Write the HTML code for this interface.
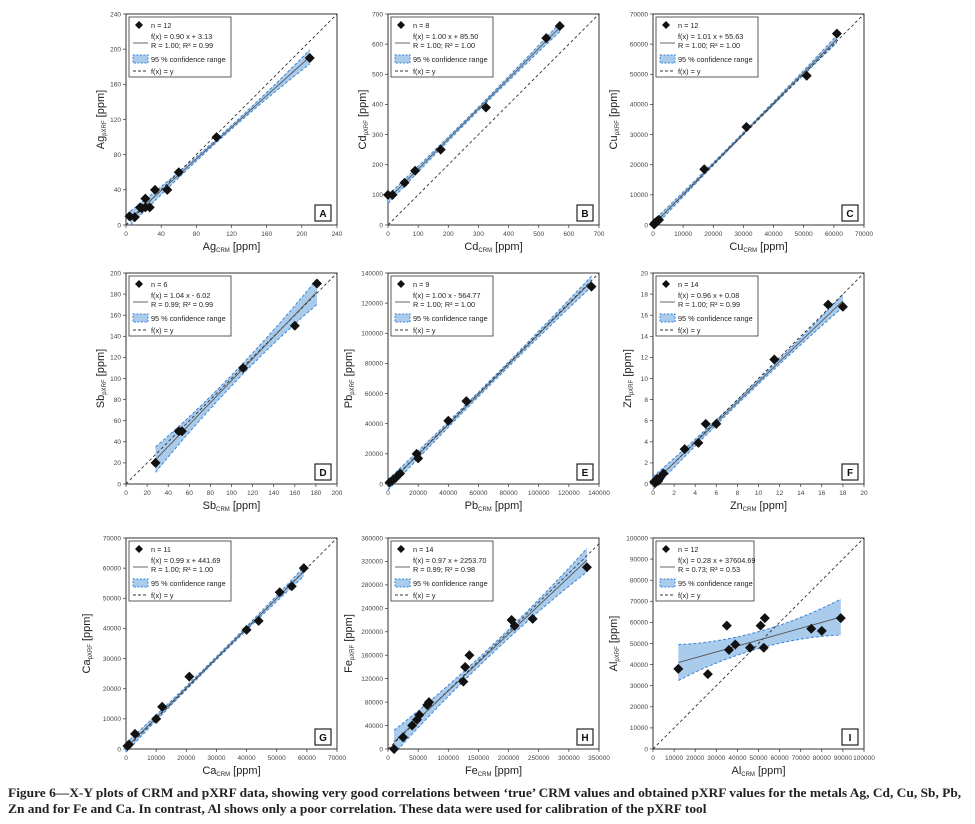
<!DOCTYPE html>
<html><head><meta charset="utf-8"><style>
html,body{margin:0;padding:0;background:#fff;width:975px;height:824px;overflow:hidden}
svg{position:absolute;left:0;top:0}
.cap{position:absolute;left:8px;top:785px;font-family:"Liberation Serif",serif;font-weight:bold;font-size:12.6px;line-height:16px;color:#222;width:900px;white-space:nowrap;transform:scaleX(1.065);transform-origin:0 0}
</style></head><body>
<svg id="s" width="975" height="824" xmlns="http://www.w3.org/2000/svg" font-family="Liberation Sans, sans-serif"></svg>
<div class="cap">Figure 6—X-Y plots of CRM and pXRF data, showing very good correlations between ‘true’ CRM values and obtained pXRF values for the metals Ag, Cd, Cu, Sb, Pb,<br>Zn and for Fe and Ca. In contrast, Al shows only a poor correlation. These data were used for calibration of the pXRF tool</div>
<script>
const P=[
{L:126,T:14,el:'Ag',tag:'A',xm:240,xs:40,ym:240,ys:40,n:12,f:'f(x) = 0.90 x + 3.13',r:'R = 1.00; R² = 0.99',a:0.90,b:3.13,x0:5,x1:209,hm:2,he:8,
pts:[[4,10],[10,9],[16,20],[22,30],[22,20],[27,20],[33,40],[47,40],[60,60],[103,100],[209,190],[18,19]]},
{L:388,T:14,el:'Cd',tag:'B',xm:700,xs:100,ym:700,ys:100,n:8,f:'f(x) = 1.00 x + 85.50',r:'R = 1.00; R² = 1.00',a:1,b:85.5,x0:0,x1:570,hm:6,he:14,
pts:[[0,100],[15,100],[55,140],[90,180],[175,250],[325,390],[525,620],[570,660]]},
{L:653,T:14,el:'Cu',tag:'C',xm:70000,xs:10000,ym:70000,ys:10000,n:12,f:'f(x) = 1.01 x + 55.63',r:'R = 1.00; R² = 1.00',a:1.01,b:55.63,x0:0,x1:61000,hm:400,he:1200,
pts:[[300,300],[700,800],[1200,1100],[1600,1500],[2000,1700],[600,400],[17000,18500],[31000,32500],[51000,49500],[61000,63500],[1000,900],[400,200]]},
{L:126,T:273,el:'Sb',tag:'D',xm:200,xs:20,ym:200,ys:20,n:6,f:'f(x) = 1.04 x - 6.02',r:'R = 0.99; R² = 0.99',a:1.04,b:-6.02,x0:28,x1:181,hm:5,he:12,
pts:[[28,20],[50,50],[53,50],[111,110],[160,150],[181,190]]},
{L:388,T:273,el:'Pb',tag:'E',xm:140000,xs:20000,ym:140000,ys:20000,n:9,f:'f(x) = 1.00 x - 564.77',r:'R = 1.00; R² = 1.00',a:1,b:-564.77,x0:0,x1:135000,hm:1500,he:3500,
pts:[[1000,1000],[3000,2500],[5000,4000],[19000,20000],[20000,17000],[40000,42000],[52000,55000],[135000,131000],[8000,7000]]},
{L:653,T:273,el:'Zn',tag:'F',xm:20,xs:2,ym:20,ys:2,n:14,f:'f(x) = 0.96 x + 0.08',r:'R = 1.00; R² = 0.99',a:0.96,b:0.08,x0:0,x1:18,hm:0.2,he:0.6,
pts:[[0.2,0.1],[0.5,0.3],[1,1],[3,3.3],[4.3,3.9],[5,5.7],[6,5.7],[11.5,11.8],[16.6,17],[18,16.8],[0.3,0.2],[0.4,0.5],[0.1,0.2],[0.6,0.5]]},
{L:126,T:538,el:'Ca',tag:'G',xm:70000,xs:10000,ym:70000,ys:10000,n:11,f:'f(x) = 0.99 x + 441.69',r:'R = 1.00; R² = 1.00',a:0.99,b:441.69,x0:0,x1:59000,hm:500,he:1500,
pts:[[500,1000],[1000,1500],[3000,5000],[10000,10000],[12000,14000],[21000,24000],[40000,39500],[44000,42500],[51000,52000],[55000,54000],[59000,60000]]},
{L:388,T:538,el:'Fe',tag:'H',xm:350000,xs:50000,ym:360000,ys:40000,n:14,f:'f(x) = 0.97 x + 2253.70',r:'R = 0.99; R² = 0.98',a:0.97,b:2253.7,x0:10000,x1:330000,hm:7000,he:20000,
pts:[[10000,0],[25000,20000],[40000,40000],[48000,50000],[52000,58000],[65000,75000],[68000,80000],[125000,115000],[128000,140000],[135000,160000],[205000,220000],[210000,210000],[240000,222000],[330000,310000]]},
{L:653,T:538,el:'Al',tag:'I',xm:100000,xs:10000,ym:100000,ys:10000,n:12,f:'f(x) = 0.28 x + 37604.69',r:'R = 0.73; R² = 0.53',a:0.28,b:37604.69,x0:12000,x1:89000,hm:4000,he:8500,
pts:[[12000,38000],[26000,35500],[35000,58500],[36000,47000],[39000,49500],[46000,48000],[51000,58500],[53000,62000],[52500,48000],[75000,57000],[80000,56000],[89000,62000]]}
];
const W=211,H=211;let o='';
for(const p of P){
 const X=v=>p.L+v/p.xm*W, Y=v=>p.T+H-v/p.ym*H, R=p.L+W, B=p.T+H;
 o+=`<rect x="${p.L}" y="${p.T}" width="${W}" height="${H}" fill="#fff" stroke="#333" stroke-width="1"/>`;
 for(let v=0;v<=p.xm+1e-9;v+=p.xs){const x=X(v);o+=`<line x1="${x}" y1="${B}" x2="${x}" y2="${B+3}" stroke="#333" stroke-width="0.7"/><text x="${x}" y="${B+11}" font-size="6.5" text-anchor="middle" fill="#444">${+v.toFixed(3)}</text>`;}
 for(let v=0;v<=p.ym+1e-9;v+=p.ys){const y=Y(v);o+=`<line x1="${p.L-3}" y1="${y}" x2="${p.L}" y2="${y}" stroke="#333" stroke-width="0.7"/><text x="${p.L-5}" y="${y+2.3}" font-size="6.5" text-anchor="end" fill="#444">${+v.toFixed(3)}</text>`;}
 const xm=(p.x0+p.x1)/2,hh=x=>p.hm+(p.he-p.hm)*Math.pow((x-xm)/(p.x1-xm),2);
 let up=[],dn=[];for(let i=0;i<=30;i++){const x=p.x0+(p.x1-p.x0)*i/30,y=p.a*x+p.b;up.push([X(x),Y(y+hh(x))]);dn.push([X(x),Y(y-hh(x))]);}
 const pl=a=>a.map(q=>q[0].toFixed(1)+','+q[1].toFixed(1)).join(' ');
 o+=`<polygon points="${pl(up)} ${pl(dn.slice().reverse())}" fill="#a9cbec" stroke="none"/>`;
 o+=`<polyline points="${pl(up)}" fill="none" stroke="#3a86d6" stroke-width="1" stroke-dasharray="3,2"/><polyline points="${pl(dn)}" fill="none" stroke="#3a86d6" stroke-width="1" stroke-dasharray="3,2"/>`;
 const m=Math.min(p.xm,p.ym);o+=`<line x1="${X(0)}" y1="${Y(0)}" x2="${X(m)}" y2="${Y(m)}" stroke="#333" stroke-width="0.9" stroke-dasharray="3,2.5"/>`;
 o+=`<line x1="${X(p.x0)}" y1="${Y(p.a*p.x0+p.b)}" x2="${X(p.x1)}" y2="${Y(p.a*p.x1+p.b)}" stroke="#555" stroke-width="0.9"/>`;
 for(const [a,b] of p.pts){const x=X(a),y=Y(b);o+=`<polygon points="${x},${y-5} ${x+5},${y} ${x},${y+5} ${x-5},${y}" fill="#111"/>`;}
 const lx=p.L+3,ly=p.T+3;
 o+=`<rect x="${lx}" y="${ly}" width="${p.tag=='I'?98:102}" height="60" fill="#fff" stroke="#333" stroke-width="0.8"/>`;
 o+=`<polygon points="${lx+10},${ly+4} ${lx+14},${ly+8} ${lx+10},${ly+12} ${lx+6},${ly+8}" fill="#111"/>`;
 o+=`<g font-size="7.3" fill="#222"><text x="${lx+22}" y="${ly+11}">n = ${p.n}</text><text x="${lx+22}" y="${ly+22}">${p.f}</text><text x="${lx+22}" y="${ly+31}">${p.r}</text><text x="${lx+22}" y="${ly+45}">95 % confidence range</text><text x="${lx+22}" y="${ly+57}">f(x) = y</text></g>`;
 o+=`<line x1="${lx+4}" y1="${ly+26}" x2="${lx+19}" y2="${ly+26}" stroke="#555" stroke-width="0.9"/>`;
 o+=`<rect x="${lx+4}" y="${ly+38}" width="15" height="8" fill="#a9cbec" stroke="#3a86d6" stroke-dasharray="2,1.5"/>`;
 o+=`<line x1="${lx+4}" y1="${ly+54}" x2="${lx+19}" y2="${ly+54}" stroke="#333" stroke-dasharray="3,2"/>`;
 o+=`<rect x="${R-22}" y="${B-20}" width="16" height="16" fill="#fff" stroke="#222" stroke-width="1.2"/><text x="${R-14}" y="${B-8}" font-size="10" font-weight="bold" text-anchor="middle" fill="#111">${p.tag}</text>`;
 o+=`<text x="${p.L+W/2}" y="${B+25}" font-size="11" text-anchor="middle" fill="#222">${p.el}<tspan font-size="6" dy="2">CRM</tspan><tspan dy="-2"> [ppm]</tspan></text>`;
 const yl=p.L-(p.ym>=10000?36:22);
 o+=`<text transform="translate(${yl},${p.T+H/2}) rotate(-90)" font-size="11" text-anchor="middle" fill="#222">${p.el}<tspan font-size="6" dy="2">pXRF</tspan><tspan dy="-2"> [ppm]</tspan></text>`;
}
document.getElementById('s').innerHTML=o;
</script>
</body></html>
